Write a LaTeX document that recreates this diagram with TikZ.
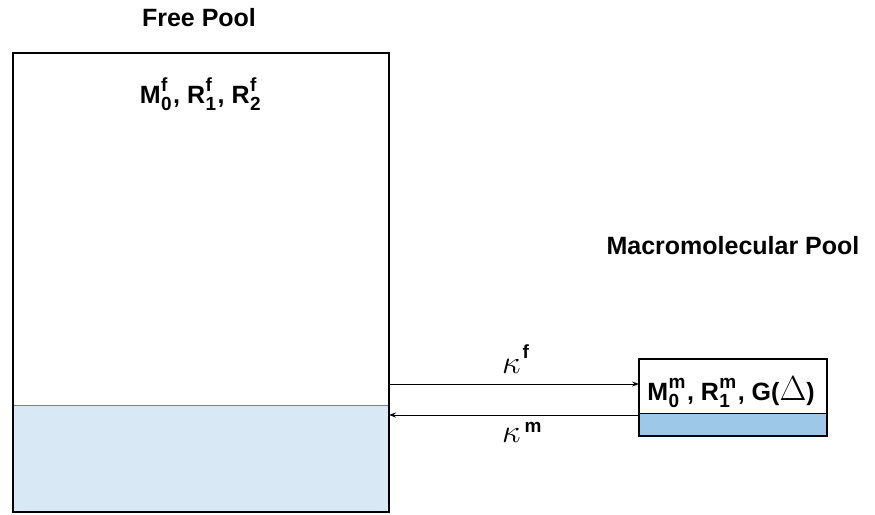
\documentclass[tikz,border=0pt]{standalone}
\usepackage{fontspec}
\setmainfont{Liberation Sans}
\usetikzlibrary{arrows.meta}
\definecolor{freeblue}{HTML}{D9E8F5}
\definecolor{boundblue}{HTML}{9DC8E8}
% stacked superscript/subscript pair set in text
\newcommand\supsubtxt[2]{{\fontsize{19}{20}\selectfont
  \setbox0=\hbox{\raisebox{12pt}{#1}}\setbox2=\hbox{\raisebox{-7pt}{#2}}%
  \kern0.5pt\ifdim\wd0>\wd2 \rlap{\box2}\box0\else\rlap{\box0}\box2\fi\kern1.5pt}}
\newcommand\bigkappa{\scalebox{1.9}{$\kappa$}}
\newcommand\bigdelta{\scalebox{1.4}{$\Delta$}}
\begin{document}
\begin{tikzpicture}[x=1pt,y=-1pt,
  title/.style={font=\bfseries\fontsize{25}{28}\selectfont, inner sep=0pt},
  param/.style={font=\bfseries\fontsize{25}{28}\selectfont, inner sep=0pt, anchor=base},
  rate/.style={font=\bfseries\fontsize{19}{19}\selectfont, inner sep=0pt, anchor=base west},
  flow/.style={line width=0.9pt, -{Stealth[length=7pt,width=5pt]}}]
\useasboundingbox (0,0) rectangle (875,514);
% free pool
\fill[freeblue] (13,405) rectangle (389,512);
\draw[gray, line width=0.9pt] (13,405) -- (389,405);
\draw[line width=1.1pt] (13,53) rectangle (389,512);
\node[title] (freetitle) at (199,18) {Free Pool};
\node[param] (freepar) at (201,103) {M\supsubtxt{f}{0}, R\supsubtxt{f}{1}, R\supsubtxt{f}{2}};
% macromolecular pool
\fill[boundblue] (639,413) rectangle (827,436);
\draw[line width=0.9pt] (639,413) -- (827,413);
\draw[line width=1.1pt] (639,359) rectangle (827,436);
\node[title] (macrotitle) at (733,246) {Macromolecular Pool};
\node[param] (macropar) at (731,400) {M\supsubtxt{m}{0}, R\supsubtxt{m}{1}, G(\bigdelta)};
% exchange
\coordinate (fout) at (389,384);
\coordinate (min) at (639,384);
\coordinate (mout) at (639,415);
\coordinate (fin) at (389,415);
\draw[flow] (fout) -- (min);
\draw[flow] (mout) -- (fin);
\node[rate] (kf) at (502,373) {\bigkappa\kern2pt\raisebox{15pt}{f}};
\node[rate] (km) at (502,442) {\bigkappa\kern4pt\raisebox{10pt}{m}};
\end{tikzpicture}
\end{document}
